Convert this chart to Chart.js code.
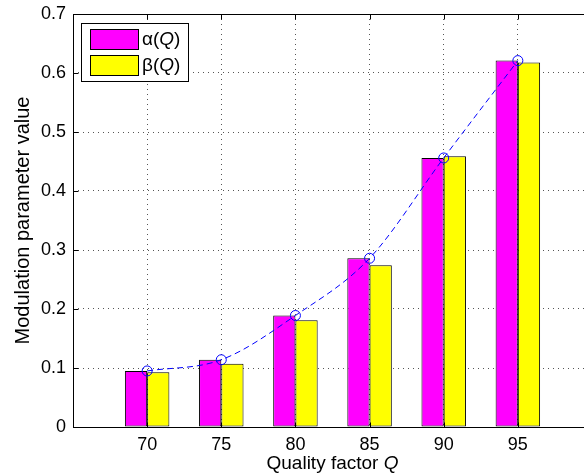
<!DOCTYPE html>
<html>
<head>
<meta charset="utf-8">
<script src="https://cdn.jsdelivr.net/npm/chart.js@4/dist/chart.umd.min.js"></script>
<style>
html,body{margin:0;padding:0;background:#fff;overflow:hidden;width:584px;height:474px;}
canvas{display:block;}
</style>
</head>
<body>
<canvas id="c" width="600" height="474"></canvas>
<script>
const categories = [70, 75, 80, 85, 90, 95];
const alphaValues = [0.095, 0.114, 0.189, 0.286, 0.456, 0.621];
const betaValues = [0.093, 0.107, 0.181, 0.274, 0.459, 0.618];
const seriesNames = ['α', 'β'];
const yTicks = [0, 0.1, 0.2, 0.3, 0.4, 0.5, 0.6, 0.7];
const xLabel = ['Quality factor ', 'Q'];
const yLabel = 'Modulation parameter value';

const FONT = '"Liberation Sans", Arial, Helvetica, sans-serif';
const MAG = '#FF00FF', YEL = '#FFFF00', BLUE = '#0000FF';

const toXY = vals => categories.map((c, i) => ({x: c, y: vals[i]}));

const decor = {
  id: 'decor',
  afterDraw(chart) {
    const ctx = chart.ctx;
    const a = chart.chartArea;
    const xs = chart.scales.x, ys = chart.scales.y;
    const L = Math.round(a.left) + 0.5, R = Math.round(a.right) + 0.5;
    const T = Math.round(a.top) + 0.5, B = Math.round(a.bottom) + 0.5;
    ctx.save();
    ctx.strokeStyle = '#000';
    ctx.lineWidth = 1;
    ctx.setLineDash([]);
    ctx.strokeRect(L, T, R - L, B - T);
    ctx.beginPath();
    yTicks.forEach(v => {
      const y = Math.round(ys.getPixelForValue(v)) + 0.5;
      ctx.moveTo(L, y); ctx.lineTo(L + 5, y);
      ctx.moveTo(R, y); ctx.lineTo(R - 5, y);
    });
    categories.forEach(v => {
      const x = Math.round(xs.getPixelForValue(v)) + 0.5;
      ctx.moveTo(x, T); ctx.lineTo(x, T + 5);
      ctx.moveTo(x, B); ctx.lineTo(x, B - 5);
    });
    ctx.stroke();

    // axis titles
    ctx.fillStyle = '#000';
    ctx.textBaseline = 'alphabetic';
    ctx.font = '19px ' + FONT;
    const w1 = ctx.measureText(xLabel[0]).width;
    ctx.font = 'italic 19px ' + FONT;
    const w2 = ctx.measureText(xLabel[1]).width;
    const x0 = (a.left + a.right) / 2 - (w1 + w2) / 2;
    ctx.textAlign = 'left';
    ctx.font = '19px ' + FONT;
    ctx.fillText(xLabel[0], x0, 469);
    ctx.font = 'italic 19px ' + FONT;
    ctx.fillText(xLabel[1], x0 + w1, 469);

    ctx.save();
    ctx.translate(29, (a.top + a.bottom) / 2);
    ctx.rotate(-Math.PI / 2);
    ctx.font = '20px ' + FONT;
    ctx.textAlign = 'center';
    ctx.fillText(yLabel, 0, 0);
    ctx.restore();

    // legend
    const bx = 81.5, by = 23.5, bw = 107, bh = 58;
    ctx.fillStyle = '#fff';
    ctx.fillRect(bx, by, bw, bh);
    ctx.strokeStyle = '#000';
    ctx.strokeRect(bx, by, bw, bh);
    const rows = [{c: MAG, y: 29.5, n: seriesNames[0]}, {c: YEL, y: 55.5, n: seriesNames[1]}];
    rows.forEach(r => {
      ctx.fillStyle = r.c;
      ctx.fillRect(90.5, r.y, 48, 20);
      ctx.strokeStyle = '#000';
      ctx.strokeRect(90.5, r.y, 48, 20);
      ctx.fillStyle = '#000';
      ctx.textBaseline = 'middle';
      ctx.textAlign = 'left';
      let tx = 142;
      const cy = r.y + 10;
      ctx.font = '19px ' + FONT;
      ctx.fillText(r.n + '(', tx, cy);
      tx += ctx.measureText(r.n + '(').width;
      ctx.font = 'italic 19px ' + FONT;
      ctx.fillText('Q', tx, cy);
      tx += ctx.measureText('Q').width;
      ctx.font = '19px ' + FONT;
      ctx.fillText(')', tx, cy);
    });
    ctx.restore();
  }
};

new Chart(document.getElementById('c'), {
  type: 'bar',
  data: {
    datasets: [
      {
        type: 'line',
        label: 'fit',
        data: toXY(alphaValues),
        borderColor: BLUE,
        borderWidth: 1,
        borderDash: [6, 4],
        backgroundColor: 'rgba(0,0,0,0)',
        pointStyle: 'circle',
        pointRadius: 5,
        pointBorderColor: BLUE,
        pointBackgroundColor: 'rgba(0,0,0,0)',
        pointBorderWidth: 1,
        cubicInterpolationMode: 'monotone',
        fill: false,
        order: 0
      },
      {
        label: seriesNames[0] + '(Q)',
        data: toXY(alphaValues),
        backgroundColor: MAG,
        borderColor: '#000',
        borderWidth: 1,
        borderSkipped: false,
        categoryPercentage: 0.6,
        barPercentage: 1.0,
        order: 1
      },
      {
        label: seriesNames[1] + '(Q)',
        data: toXY(betaValues),
        backgroundColor: YEL,
        borderColor: '#000',
        borderWidth: 1,
        borderSkipped: false,
        categoryPercentage: 0.6,
        barPercentage: 1.0,
        order: 1
      }
    ]
  },
  options: {
    responsive: false,
    animation: false,
    devicePixelRatio: 1,
    layout: {padding: {top: 14, right: 8, left: 0, bottom: 0}},
    plugins: {legend: {display: false}, tooltip: {enabled: false}},
    scales: {
      x: {
        type: 'linear',
        min: 65,
        max: 100,
        offset: false,
        afterBuildTicks: s => { s.ticks = categories.map(v => ({value: v})); },
        afterFit: s => { s.height = 47; s.paddingLeft = 0; s.paddingRight = 0; },
        border: {display: false, dash: [1, 4]},
        grid: {color: '#555', lineWidth: 1, drawTicks: false, offset: false},
        ticks: {
          color: '#000',
          font: {family: FONT, size: 18},
          padding: 7,
          maxRotation: 0,
          autoSkip: false,
          callback: v => String(v)
        }
      },
      y: {
        min: 0,
        max: 0.7,
        afterBuildTicks: s => { s.ticks = yTicks.map(v => ({value: v})); },
        afterFit: s => { s.width = 73; s.paddingTop = 0; s.paddingBottom = 0; },
        border: {display: false, dash: [1, 4]},
        grid: {color: '#555', lineWidth: 1, drawTicks: false},
        ticks: {
          color: '#000',
          font: {family: FONT, size: 18},
          padding: 7,
          callback: v => (v === 0 ? '0' : Number(v).toFixed(1))
        }
      }
    }
  },
  plugins: [decor]
});
</script>
</body>
</html>
